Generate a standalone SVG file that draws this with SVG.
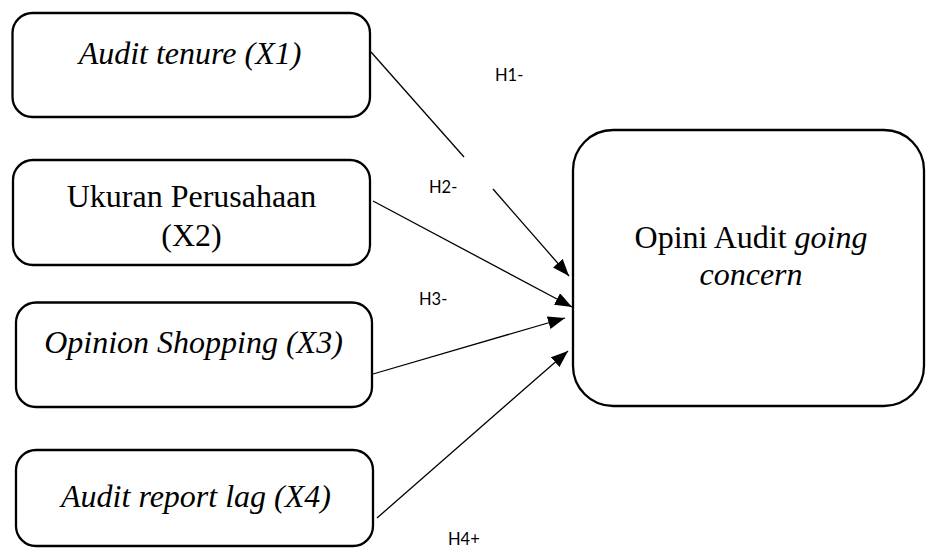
<svg xmlns="http://www.w3.org/2000/svg" width="926" height="548" viewBox="0 0 926 548">
<defs>
<style>
.box{fill:#fff;stroke:#000;stroke-width:2.3}
.t{font-family:"Liberation Serif","Times New Roman",serif;font-size:32px;fill:#000;text-anchor:middle}
.i{font-style:italic}
.lbl{font-family:Lato,"Liberation Sans",sans-serif;font-size:16.5px;fill:#000}
.c{stroke:#000;stroke-width:1.3;fill:none}
</style>
<marker id="ah" markerWidth="17" markerHeight="13" refX="17" refY="6.5" orient="auto" markerUnits="userSpaceOnUse">
<path d="M0,0 L17,6.5 L0,13 z" fill="#000"/>
</marker>
</defs>
<rect width="926" height="548" fill="#fff"/>
<g id="x1">
<rect class="box" x="12.5" y="13" width="357.5" height="104" rx="20"/>
<text class="t i" x="190" y="64">Audit tenure (X1)</text>
</g>
<g id="x2">
<rect class="box" x="13" y="160" width="357" height="105" rx="20"/>
<text class="t" x="191.5" y="207">Ukuran Perusahaan</text>
<text class="t" x="191.5" y="246">(X2)</text>
</g>
<g id="x3">
<rect class="box" x="16" y="302.5" width="356" height="104.5" rx="20"/>
<text class="t i" x="193.5" y="353">Opinion Shopping (X3)</text>
</g>
<g id="x4">
<rect class="box" x="16" y="450" width="357" height="96" rx="20"/>
<text class="t i" x="196" y="507">Audit report lag (X4)</text>
</g>
<g id="y">
<rect class="box" x="573" y="130" width="351" height="276" rx="40"/>
<text class="t" x="751" y="248">Opini Audit <tspan class="i">going</tspan></text>
<text class="t i" x="751" y="285">concern</text>
</g>
<g id="connectors">
<path class="c" d="M371,52 L464,157"/>
<path class="c" d="M493,189 L569,276" marker-end="url(#ah)"/>
<path class="c" d="M373,201 L572,307" marker-end="url(#ah)"/>
<path class="c" d="M373,374 L565,318" marker-end="url(#ah)"/>
<path class="c" d="M377,518 L568,351" marker-end="url(#ah)"/>
</g>
<g id="labels">
<text class="lbl" x="495" y="81">H1-</text>
<text class="lbl" x="429" y="193">H2-</text>
<text class="lbl" x="419" y="305">H3-</text>
<text class="lbl" x="448" y="545">H4+</text>
</g>
</svg>
